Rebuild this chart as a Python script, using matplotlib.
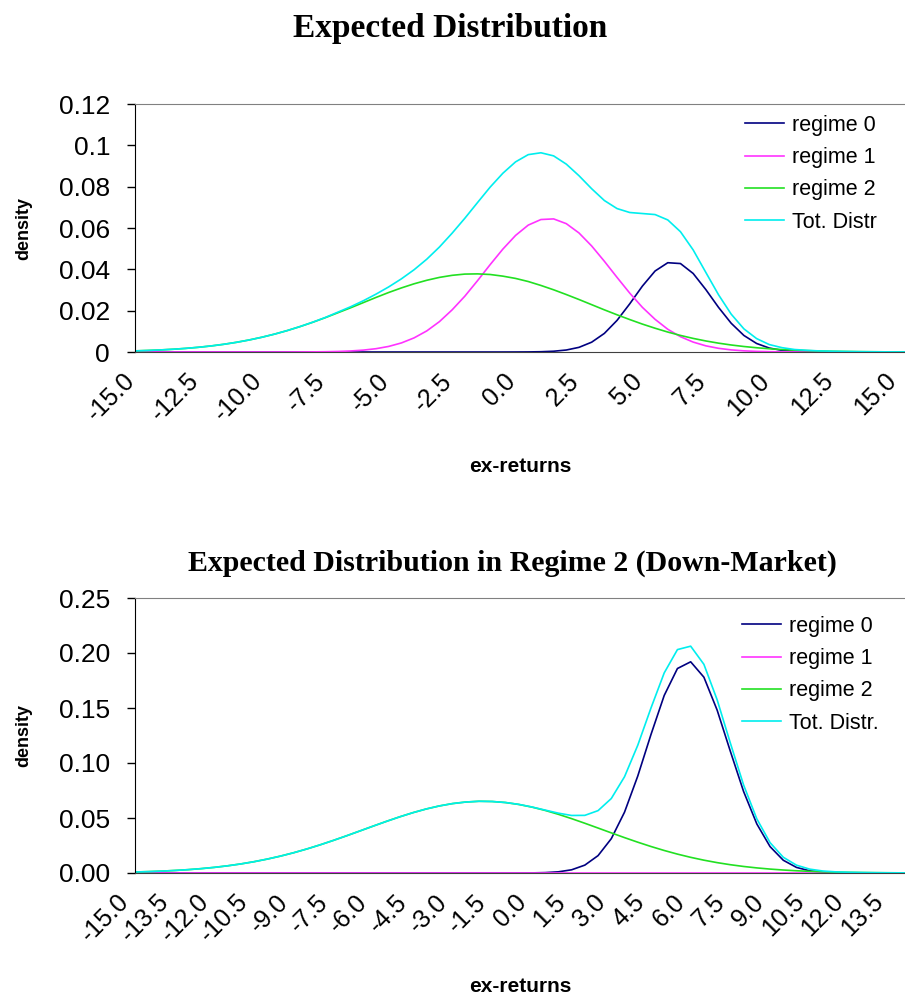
import numpy as np
import matplotlib
matplotlib.use('Agg')
import matplotlib.pyplot as plt
from matplotlib.transforms import ScaledTranslation

plt.rcParams['font.family'] = ['Liberation Sans', 'DejaVu Sans']

# top chart: x grid -15 .. 15.5 step 0.5
x_top = np.arange(-15, 15.75, 0.5)
regime0_top = [0, 0, 0, 0, 0, 0, 0, 0, 0, 0,
               0, 0, 0, 0, 0, 0, 0, 0, 0, 0,
               0, 0, 0, 0, 0, 0, 0, 0, 0, 0,
               0.00001, 0.00004, 0.00013, 0.00037, 0.00096, 0.00225, 0.00475, 0.0090, 0.0153, 0.0233,
               0.0319, 0.0392, 0.0432, 0.0428, 0.0380, 0.0302, 0.0216, 0.0139, 0.0080, 0.00413,
               0.00191, 0.0008, 0.0003, 0.0001, 0.00003, 0.00001, 0, 0, 0, 0,
               0, 0]
regime1_top = [0, 0, 0, 0, 0, 0, 0, 0, 0, 0,
               0, 0, 0.00001, 0.00003, 0.00006, 0.00013, 0.00026, 0.0005, 0.00091, 0.0016,
               0.0027, 0.00438, 0.00683, 0.0102, 0.0147, 0.0204, 0.0270, 0.0345, 0.0423, 0.0498,
               0.0564, 0.0614, 0.0641, 0.0644, 0.0621, 0.0576, 0.0513, 0.0439, 0.0361, 0.0285,
               0.0216, 0.0158, 0.0110, 0.0074, 0.0048, 0.00298, 0.00178, 0.00102, 0.00056, 0.0003,
               0.00015, 0.00007, 0.00003, 0.00001, 0, 0, 0, 0, 0, 0,
               0, 0]
regime2_top = [0.00054, 0.00074, 0.00100, 0.00133, 0.00175, 0.00228, 0.00293, 0.00373, 0.00469, 0.00582,
               0.00714, 0.00865, 0.01036, 0.01227, 0.01436, 0.0166, 0.0190, 0.0214, 0.0239, 0.0264,
               0.0288, 0.0310, 0.0330, 0.0347, 0.0361, 0.0371, 0.0377, 0.0378, 0.0375, 0.0367,
               0.0356, 0.0341, 0.0322, 0.0301, 0.0278, 0.0254, 0.0229, 0.0204, 0.0180, 0.0157,
               0.0135, 0.0115, 0.00965, 0.00802, 0.00658, 0.00534, 0.00428, 0.00339, 0.00266, 0.00206,
               0.00157, 0.00119, 0.00089, 0.00066, 0.00048, 0.00034, 0.00025, 0.00017, 0.00012, 0.00008,
               0.00006, 0.00004]
total_top = [0.00054, 0.00074, 0.00100, 0.00133, 0.00175, 0.00228, 0.00293, 0.00373, 0.00469, 0.00582,
             0.00714, 0.00865, 0.01037, 0.0123, 0.0144, 0.0167, 0.0193, 0.0219, 0.0248, 0.0280,
             0.0315, 0.0354, 0.0398, 0.0449, 0.0508, 0.0575, 0.0647, 0.0723, 0.0798, 0.0865,
             0.0920, 0.0955, 0.0964, 0.0949, 0.0909, 0.0853, 0.0790, 0.0733, 0.0694, 0.0675,
             0.0670, 0.0665, 0.0639, 0.0582, 0.0494, 0.0385, 0.0277, 0.0183, 0.0112, 0.0065,
             0.0036, 0.0021, 0.0012, 0.0008, 0.0005, 0.00035, 0.00025, 0.00017, 0.00012, 0.00008,
             0.00006, 0.00004]
xticks_top = [-15.0, -12.5, -10.0, -7.5, -5.0, -2.5, 0.0, 2.5, 5.0, 7.5, 10.0, 12.5, 15.0]
yticks_top = [0, 0.02, 0.04, 0.06, 0.08, 0.1, 0.12]
ylabels_top = ['0', '0.02', '0.04', '0.06', '0.08', '0.1', '0.12']

# bottom chart: x grid -15 .. 14.5 step 0.5
x_bot = np.arange(-15, 14.75, 0.5)
regime0_bot = [0, 0, 0, 0, 0, 0, 0, 0, 0, 0,
               0, 0, 0, 0, 0, 0, 0, 0, 0, 0,
               0, 0, 0, 0, 0, 0, 0, 0, 0.00001, 0.00003,
               0.0001, 0.00035, 0.00107, 0.00291, 0.00716, 0.0158, 0.0312, 0.0553, 0.0881, 0.1259,
               0.1614, 0.1859, 0.1920, 0.1780, 0.1481, 0.1106, 0.0741, 0.0446, 0.0240, 0.0116,
               0.00506, 0.00198, 0.00069, 0.00022, 0.00006, 0.00002, 0, 0, 0, 0]
regime1_bot = [0, 0, 0, 0, 0, 0, 0, 0, 0, 0,
               0, 0, 0, 0, 0, 0, 0, 0, 0, 0,
               0, 0, 0, 0, 0, 0, 0, 0, 0, 0,
               0, 0, 0, 0, 0, 0, 0, 0, 0, 0,
               0, 0, 0, 0, 0, 0, 0, 0, 0, 0,
               0, 0, 0, 0, 0, 0, 0, 0, 0, 0]
regime2_bot = [0.00091, 0.00125, 0.00170, 0.00229, 0.00303, 0.00396, 0.00512, 0.00654, 0.00825, 0.01028,
               0.01265, 0.01537, 0.01845, 0.02188, 0.02563, 0.02965, 0.03387, 0.03823, 0.04262, 0.04692,
               0.05103, 0.05482, 0.05817, 0.06096, 0.06311, 0.06452, 0.0652, 0.0650, 0.06405, 0.06233,
               0.05992, 0.05689, 0.05335, 0.04942, 0.04522, 0.04087, 0.03648, 0.03216, 0.02801, 0.02409,
               0.02047, 0.01717, 0.01424, 0.01166, 0.00943, 0.00753, 0.00594, 0.00463, 0.00356, 0.00271,
               0.00203, 0.00151, 0.00111, 0.0008, 0.00057, 0.0004, 0.00028, 0.00019, 0.00013, 0.00009]
total_bot = [0.00091, 0.00125, 0.00170, 0.00229, 0.00303, 0.00396, 0.00512, 0.00654, 0.00825, 0.01028,
             0.01265, 0.01537, 0.01845, 0.02188, 0.02563, 0.02965, 0.03387, 0.03823, 0.04262, 0.04692,
             0.05103, 0.05482, 0.05817, 0.06096, 0.06311, 0.06452, 0.0652, 0.0650, 0.0641, 0.0624,
             0.0600, 0.0572, 0.0544, 0.0523, 0.0524, 0.0567, 0.0677, 0.0875, 0.1161, 0.1500,
             0.1819, 0.2031, 0.2062, 0.1897, 0.1575, 0.1181, 0.0800, 0.0492, 0.0276, 0.0143,
             0.0071, 0.0035, 0.0018, 0.0010, 0.00063, 0.00042, 0.00028, 0.00019, 0.00013, 0.00009]
xticks_bot = [-15.0, -13.5, -12.0, -10.5, -9.0, -7.5, -6.0, -4.5, -3.0, -1.5, 0.0,
              1.5, 3.0, 4.5, 6.0, 7.5, 9.0, 10.5, 12.0, 13.5]
yticks_bot = [0.00, 0.05, 0.10, 0.15, 0.20, 0.25]

colors = ['#000080', '#ff33ff', '#22e022', '#00eeee']

W, H = 905, 999
fig = plt.figure(figsize=(W / 100, H / 100), dpi=100)


def px_axes(left, top, right, bottom):
    return fig.add_axes([left / W, 1 - bottom / H, (right - left) / W, (bottom - top) / H])


def style(ax, xticks, xlabels, yticks, ylabels, xlim, ylim, xshift):
    ax.set_xlim(*xlim)
    ax.set_ylim(*ylim)
    ax.set_xticks(xticks)
    ax.set_xticklabels(xlabels, rotation=45, ha='right', va='top',
                       rotation_mode='anchor', fontsize=18)
    ax.set_yticks(yticks)
    ax.set_yticklabels(ylabels, fontsize=19)
    ax.tick_params(axis='x', length=0, pad=12)
    ax.tick_params(axis='y', direction='out', length=6, width=1, pad=12)
    # nudge rotated labels left, like the spreadsheet output
    shift = ScaledTranslation(xshift / 100, 0, fig.dpi_scale_trans)
    for lab in ax.get_xticklabels():
        lab.set_transform(lab.get_transform() + shift)
    ax.spines['right'].set_visible(False)
    ax.spines['top'].set_color('#808080')
    ax.spines['left'].set_color('black')
    ax.spines['bottom'].set_color('#404040')
    ax.set_xlabel('ex-returns', fontsize=15, fontweight='bold', labelpad=22)
    ax.set_ylabel('density', fontsize=13, fontweight='bold', labelpad=19)


# top chart
ax1 = px_axes(135, 104, 905, 352)
ax1.plot(x_top, regime0_top, color=colors[0], lw=1.2, label='regime 0')
ax1.plot(x_top, regime1_top, color=colors[1], lw=1.2, label='regime 1')
ax1.plot(x_top, regime2_top, color=colors[2], lw=1.2, label='regime 2')
ax1.plot(x_top, total_top, color=colors[3], lw=1.2, label='Tot. Distr')
style(ax1, xticks_top, ['%.1f' % v for v in xticks_top], yticks_top, ylabels_top,
      (-15, 15.35), (0, 0.12), -12)
ax1.legend(loc='upper left', bbox_to_anchor=(745 / W, 1 - 115 / H), bbox_transform=fig.transFigure,
           frameon=False, fontsize=15.5, handlelength=1.8, handletextpad=0.4,
           labelspacing=0.52, borderpad=0, borderaxespad=0)
fig.text(450 / W, 1 - 28 / H, 'Expected Distribution', ha='center', va='center',
         fontsize=24, fontweight='bold', family='Liberation Serif')

# bottom chart
ax2 = px_axes(135, 598, 905, 873)
ax2.plot(x_bot, regime0_bot, color=colors[0], lw=1.2, label='regime 0')
ax2.plot(x_bot, regime1_bot, color=colors[1], lw=1.2, label='regime 1')
ax2.plot(x_bot, regime2_bot, color=colors[2], lw=1.2, label='regime 2')
ax2.plot(x_bot, total_bot, color=colors[3], lw=1.2, label='Tot. Distr.')
style(ax2, xticks_bot, ['%.1f' % v for v in xticks_bot], yticks_bot,
      ['%.2f' % v for v in yticks_bot], (-15, 14.1), (0, 0.25), -18)
ax2.legend(loc='upper left', bbox_to_anchor=(742 / W, 1 - 616 / H), bbox_transform=fig.transFigure,
           frameon=False, fontsize=15.5, handlelength=1.8, handletextpad=0.4,
           labelspacing=0.52, borderpad=0, borderaxespad=0)
fig.text(512 / W, 1 - 563 / H, 'Expected Distribution in Regime 2 (Down-Market)', ha='center',
         va='center', fontsize=21.5, fontweight='bold', family='Liberation Serif')

fig.savefig('out.png', dpi=100)
